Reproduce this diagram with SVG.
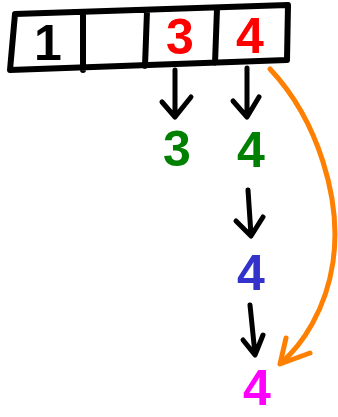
<svg xmlns="http://www.w3.org/2000/svg" width="338" height="417" viewBox="0 0 338 417">
<style>
.box{fill:none;stroke:#000;stroke-width:6;stroke-linejoin:round;stroke-linecap:round}
.d{font-family:"Liberation Sans",Arial,sans-serif;font-weight:bold;font-size:50px;text-anchor:middle}
.a{fill:none;stroke:#000;stroke-width:5;stroke-linecap:round;stroke-linejoin:round}
.o{fill:none;stroke:#FF8000;stroke-width:5;stroke-linecap:round;stroke-linejoin:round}
</style>
<rect width="338" height="417" fill="#fff"/>
<g id="array">
<path class="box" d="M15,14 L288,5 L287,60 L10,70 Z M83,14 L83,70 M147,11 L145,66 M217,9 L215,63"/>
<text class="d" x="48" y="60" fill="#000">1</text>
<text class="d" x="180" y="54" fill="#FF0000">3</text>
<text class="d" x="250" y="53" fill="#FF0000">4</text>
</g>
<g id="g3"><text class="d" x="177" y="166" fill="#008000">3</text></g>
<g id="g4"><text class="d" x="251" y="167" fill="#008000">4</text></g>
<g id="b4"><text class="d" x="251" y="290" fill="#3333CC">4</text></g>
<g id="m4"><text class="d" x="257" y="405" fill="#FF00FF">4</text></g>
<g id="connectors">
<path class="a" d="M175,70 L175,116 M162,102 L175,117 L191,97"/>
<path class="a" d="M247,68 L247,116 M233,101 L247,117 L259,97"/>
<path class="a" d="M248,190 L251,235 M236,221 L251,236 L263,217"/>
<path class="a" d="M250,305 L255,354 M243,340 L255,355 L263,335"/>
<path class="o" d="M270,69 C318,120 342,200 333,262 C326,310 302,345 281,363"/>
<path class="o" d="M286,338 L280,364 L310,353"/>
</g>
</svg>
